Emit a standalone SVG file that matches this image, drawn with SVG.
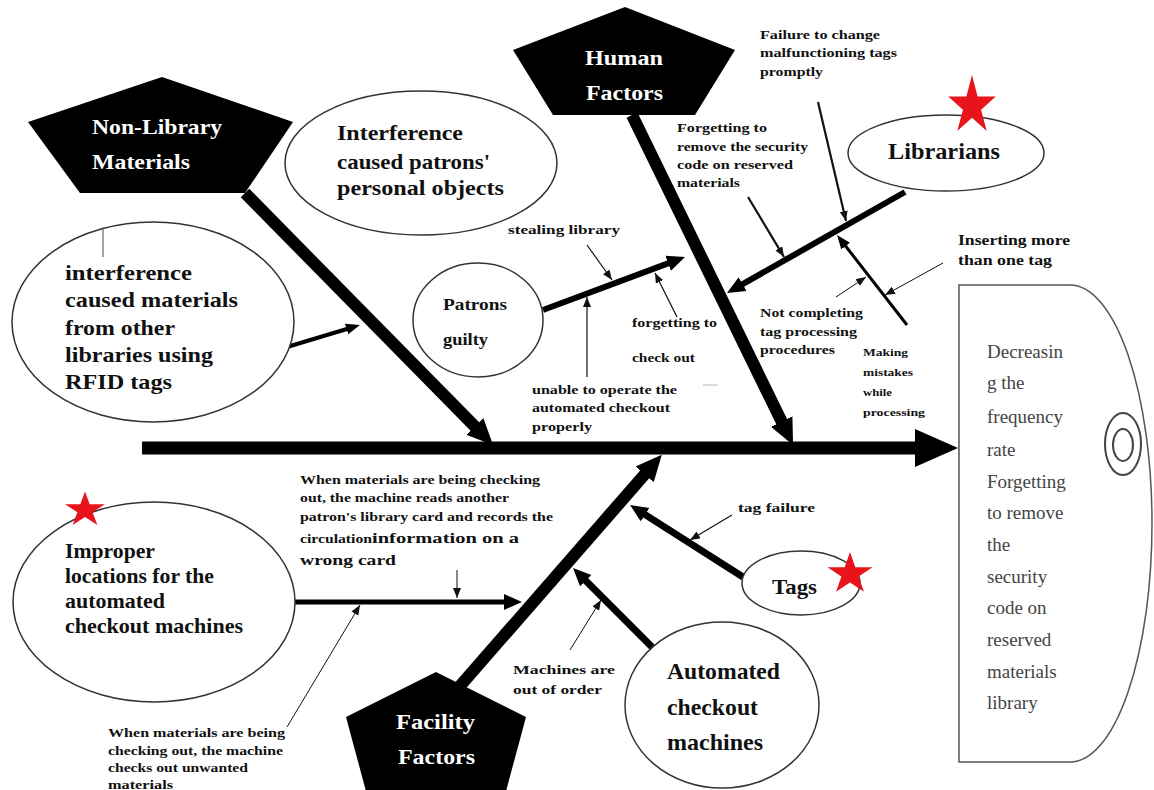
<svg xmlns="http://www.w3.org/2000/svg" xmlns:xlink="http://www.w3.org/1999/xlink" width="1154" height="790" viewBox="0 0 1154 790">
<style>
.b{font-family:"Liberation Serif","Times New Roman",serif;font-weight:bold;fill:#111}
.w{fill:#fff}
.r{font-family:"Liberation Serif","Times New Roman",serif;fill:#444;font-size:19px}
.ov{fill:#fff;stroke:#333;stroke-width:1.5}
.pent{fill:#000}
.bone{stroke:#000;fill:none}
.thin{stroke:#111;fill:none}
.star{fill:#e8141c}
</style>
<defs>
<marker id="aL" markerUnits="userSpaceOnUse" markerWidth="26" markerHeight="26" viewBox="0 0 26 26" refX="4" refY="13" orient="auto"><path d="M0,1 L26,13 L0,25 z" fill="#000"/></marker>
<marker id="aM" markerUnits="userSpaceOnUse" markerWidth="18" markerHeight="18" viewBox="0 0 18 18" refX="2" refY="9" orient="auto"><path d="M0,1 L18,9 L0,17 z" fill="#000"/></marker>
<marker id="aS" markerUnits="userSpaceOnUse" markerWidth="14" markerHeight="12" viewBox="0 0 14 12" refX="2" refY="6" orient="auto"><path d="M0,0.5 L14,6 L0,11.5 z" fill="#000"/></marker>
<marker id="aT" markerUnits="userSpaceOnUse" markerWidth="10" markerHeight="8" viewBox="0 0 10 8" refX="10" refY="4" orient="auto"><path d="M0,0 L10,4 L0,8 z" fill="#111"/></marker>
<path id="star" d="M0,-10 L2.245,-3.09 L9.511,-3.09 L3.633,1.18 L5.878,8.09 L0,3.82 L-5.878,8.09 L-3.633,1.18 L-9.511,-3.09 L-2.245,-3.09 Z"/>
</defs>
<rect width="1154" height="790" fill="#fff"/>

<g id="connectors">
  <line class="bone" x1="142" y1="448" x2="920" y2="448" stroke-width="13"/>
  <polygon points="915,429 958,448 915,467" fill="#000"/>
  <line class="bone" x1="245" y1="193" x2="477.6" y2="429.3" stroke-width="12" marker-end="url(#aL)"/>
  <line class="bone" x1="632" y1="115" x2="783.4" y2="425.2" stroke-width="12" marker-end="url(#aL)"/>
  <line class="bone" x1="460" y1="686" x2="647.3" y2="471.4" stroke-width="12" marker-end="url(#aL)"/>
  <line class="bone" x1="743" y1="577" x2="643.5" y2="513.6" stroke-width="7" marker-end="url(#aM)"/>
  <line class="bone" x1="653" y1="648" x2="584.3" y2="579.3" stroke-width="7" marker-end="url(#aM)"/>
  <line class="bone" x1="295" y1="602" x2="506" y2="602" stroke-width="5" marker-end="url(#aM)"/>
  <line class="bone" x1="543" y1="310" x2="670" y2="262.6" stroke-width="6" marker-end="url(#aM)"/>
  <line class="bone" x1="905" y1="192" x2="740.9" y2="285.1" stroke-width="6" marker-end="url(#aM)"/>
  <line class="bone" x1="907" y1="325" x2="844.4" y2="244.5" stroke-width="3" marker-end="url(#aS)"/>
  <line class="bone" x1="287" y1="347" x2="348.5" y2="328.5" stroke-width="4" marker-end="url(#aS)"/>
  <line class="thin" x1="818" y1="102" x2="846" y2="221" stroke-width="2.2" marker-end="url(#aT)"/>
  <line class="thin" x1="748" y1="197" x2="784" y2="257" stroke-width="2.2" marker-end="url(#aT)"/>
  <line class="thin" x1="836" y1="297" x2="866" y2="277" stroke-width="1" marker-end="url(#aT)"/>
  <line class="thin" x1="943" y1="263" x2="885" y2="295" stroke-width="1" marker-end="url(#aT)"/>
  <line class="thin" x1="587" y1="245" x2="612" y2="280" stroke-width="1.2" marker-end="url(#aT)"/>
  <line class="thin" x1="587" y1="377" x2="587" y2="297" stroke-width="1.2" marker-end="url(#aT)"/>
  <line class="thin" x1="677" y1="317" x2="655" y2="273" stroke-width="1.2" marker-end="url(#aT)"/>
  <line class="thin" x1="732" y1="515" x2="690" y2="540" stroke-width="1.2" marker-end="url(#aT)"/>
  <line class="thin" x1="570" y1="650" x2="601" y2="600" stroke-width="1" marker-end="url(#aT)"/>
  <line class="thin" x1="457" y1="570" x2="457" y2="598" stroke-width="1" marker-end="url(#aT)"/>
  <line class="thin" x1="287" y1="727" x2="360" y2="605" stroke-width="1" marker-end="url(#aT)"/>
  <line x1="703" y1="385" x2="718" y2="385" stroke="#bbb" stroke-width="1"/>
</g>

<g id="non-library-materials">
  <polygon class="pent" points="162,77 293,122 245,193 80,193 28,122"/>
  <text class="b w" font-size="21" x="92" y="134" textLength="130" lengthAdjust="spacingAndGlyphs">Non-Library</text>
  <text class="b w" font-size="21" x="92" y="169" textLength="98" lengthAdjust="spacingAndGlyphs">Materials</text>
</g>

<g id="human-factors">
  <polygon class="pent" points="625,7 735,50 695,115 553,115 513,50"/>
  <text class="b w" font-size="22" x="585" y="65" textLength="78" lengthAdjust="spacingAndGlyphs">Human</text>
  <text class="b w" font-size="22" x="586" y="100" textLength="77" lengthAdjust="spacingAndGlyphs">Factors</text>
</g>

<g id="facility-factors">
  <polygon class="pent" points="436,672 526,717 505,795 367,795 346,717"/>
  <text class="b w" font-size="22" x="396" y="729" textLength="79" lengthAdjust="spacingAndGlyphs">Facility</text>
  <text class="b w" font-size="22" x="398" y="764" textLength="77" lengthAdjust="spacingAndGlyphs">Factors</text>
</g>

<g id="patrons-objects">
  <ellipse class="ov" cx="421" cy="163" rx="136" ry="72"/>
  <text class="b" font-size="22" x="337" y="140" textLength="126" lengthAdjust="spacingAndGlyphs">Interference</text>
  <text class="b" font-size="22" x="337" y="169" textLength="153" lengthAdjust="spacingAndGlyphs">caused patrons'</text>
  <text class="b" font-size="22" x="337" y="195" textLength="167" lengthAdjust="spacingAndGlyphs">personal objects</text>
</g>

<g id="rfid-materials">
  <ellipse class="ov" cx="153" cy="322" rx="141" ry="100"/>
  <line x1="103" y1="227" x2="103" y2="257" stroke="#666" stroke-width="1.2"/>
  <text class="b" font-size="22" x="65" y="280" textLength="127" lengthAdjust="spacingAndGlyphs">interference</text>
  <text class="b" font-size="22" x="65" y="307" textLength="173" lengthAdjust="spacingAndGlyphs">caused materials</text>
  <text class="b" font-size="22" x="65" y="335" textLength="110" lengthAdjust="spacingAndGlyphs">from other</text>
  <text class="b" font-size="22" x="65" y="362" textLength="148" lengthAdjust="spacingAndGlyphs">libraries using</text>
  <text class="b" font-size="22" x="65" y="389" textLength="107" lengthAdjust="spacingAndGlyphs">RFID tags</text>
</g>

<g id="patrons-guilty">
  <ellipse class="ov" cx="478" cy="320" rx="65" ry="57"/>
  <text class="b" font-size="16" x="443" y="310" textLength="64" lengthAdjust="spacingAndGlyphs">Patrons</text>
  <text class="b" font-size="16" x="443" y="345" textLength="45" lengthAdjust="spacingAndGlyphs">guilty</text>
</g>

<g id="librarians">
  <ellipse class="ov" cx="946" cy="153" rx="98" ry="38"/>
  <text class="b" font-size="23" x="888" y="159" textLength="112" lengthAdjust="spacingAndGlyphs">Librarians</text>
  <use xlink:href="#star" class="star" transform="translate(972,106) scale(2.5,3.1)"/>
</g>

<g id="improper-locations">
  <ellipse class="ov" cx="154" cy="602" rx="141" ry="100"/>
  <use xlink:href="#star" class="star" transform="translate(85,510) scale(2.1,1.85)"/>
  <text class="b" font-size="21" x="65" y="558" textLength="90" lengthAdjust="spacingAndGlyphs">Improper</text>
  <text class="b" font-size="21" x="65" y="583" textLength="149" lengthAdjust="spacingAndGlyphs">locations for the</text>
  <text class="b" font-size="21" x="65" y="608" textLength="100" lengthAdjust="spacingAndGlyphs">automated</text>
  <text class="b" font-size="21" x="65" y="633" textLength="178" lengthAdjust="spacingAndGlyphs">checkout machines</text>
</g>

<g id="tags">
  <ellipse class="ov" cx="801" cy="583" rx="59" ry="32"/>
  <text class="b" font-size="22" x="772" y="594" textLength="45" lengthAdjust="spacingAndGlyphs">Tags</text>
  <use xlink:href="#star" class="star" transform="translate(850,574) scale(2.37,2.2)"/>
</g>

<g id="automated-checkout-machines">
  <ellipse class="ov" cx="722" cy="705" rx="97" ry="83"/>
  <text class="b" font-size="24" x="667" y="679" textLength="113" lengthAdjust="spacingAndGlyphs">Automated</text>
  <text class="b" font-size="24" x="667" y="715" textLength="91" lengthAdjust="spacingAndGlyphs">checkout</text>
  <text class="b" font-size="24" x="667" y="750" textLength="96" lengthAdjust="spacingAndGlyphs">machines</text>
</g>

<g id="effect-head">
  <path d="M959,285 L1070,285 A82,238.5 0 0 1 1070,762 L959,762 Z" fill="#fff" stroke="#555" stroke-width="1.5"/>
  <ellipse cx="1123" cy="444" rx="18" ry="31" fill="none" stroke="#444" stroke-width="2"/>
  <ellipse cx="1123" cy="445" rx="10" ry="16" fill="none" stroke="#444" stroke-width="2"/>
  <text class="r" x="987" y="358">Decreasin</text>
  <text class="r" x="987" y="389">g the</text>
  <text class="r" x="987" y="423">frequency</text>
  <text class="r" x="987" y="456">rate</text>
  <text class="r" x="987" y="488">Forgetting</text>
  <text class="r" x="987" y="519">to remove</text>
  <text class="r" x="987" y="551">the</text>
  <text class="r" x="987" y="583">security</text>
  <text class="r" x="987" y="614">code on</text>
  <text class="r" x="987" y="646">reserved</text>
  <text class="r" x="987" y="678">materials</text>
  <text class="r" x="987" y="709">library</text>
</g>

<g id="cause-labels">
  <text class="b" font-size="13" x="760" y="39" textLength="120" lengthAdjust="spacingAndGlyphs">Failure to change</text>
  <text class="b" font-size="13" x="760" y="57" textLength="137" lengthAdjust="spacingAndGlyphs">malfunctioning tags</text>
  <text class="b" font-size="13" x="760" y="76" textLength="63" lengthAdjust="spacingAndGlyphs">promptly</text>

  <text class="b" font-size="13" x="677" y="132" textLength="90" lengthAdjust="spacingAndGlyphs">Forgetting to</text>
  <text class="b" font-size="13" x="677" y="151" textLength="131" lengthAdjust="spacingAndGlyphs">remove the security</text>
  <text class="b" font-size="13" x="677" y="169" textLength="116" lengthAdjust="spacingAndGlyphs">code on reserved</text>
  <text class="b" font-size="13" x="677" y="187" textLength="63" lengthAdjust="spacingAndGlyphs">materials</text>

  <text class="b" font-size="15" x="958" y="245" textLength="112" lengthAdjust="spacingAndGlyphs">Inserting  more</text>
  <text class="b" font-size="15" x="958" y="265" textLength="94" lengthAdjust="spacingAndGlyphs">than one tag</text>

  <text class="b" font-size="13" x="760" y="317" textLength="103" lengthAdjust="spacingAndGlyphs">Not completing</text>
  <text class="b" font-size="13" x="760" y="336" textLength="97" lengthAdjust="spacingAndGlyphs">tag processing</text>
  <text class="b" font-size="13" x="760" y="354" textLength="75" lengthAdjust="spacingAndGlyphs">procedures</text>

  <text class="b" font-size="11" x="863" y="356" textLength="45" lengthAdjust="spacingAndGlyphs">Making</text>
  <text class="b" font-size="11" x="863" y="376" textLength="50" lengthAdjust="spacingAndGlyphs">mistakes</text>
  <text class="b" font-size="11" x="863" y="396" textLength="29" lengthAdjust="spacingAndGlyphs">while</text>
  <text class="b" font-size="11" x="863" y="416" textLength="62" lengthAdjust="spacingAndGlyphs">processing</text>

  <text class="b" font-size="13" x="508" y="234" textLength="112" lengthAdjust="spacingAndGlyphs">stealing library</text>
  <text class="b" font-size="13" x="632" y="327" textLength="85" lengthAdjust="spacingAndGlyphs">forgetting to</text>
  <text class="b" font-size="13" x="632" y="362" textLength="63" lengthAdjust="spacingAndGlyphs">check out</text>
  <text class="b" font-size="12" x="532" y="394" textLength="145" lengthAdjust="spacingAndGlyphs">unable to operate the</text>
  <text class="b" font-size="12" x="532" y="412" textLength="138" lengthAdjust="spacingAndGlyphs">automated checkout</text>
  <text class="b" font-size="12" x="532" y="431" textLength="60" lengthAdjust="spacingAndGlyphs">properly</text>

  <text class="b" font-size="13" x="738" y="512" textLength="77" lengthAdjust="spacingAndGlyphs">tag failure</text>
  <text class="b" font-size="13" x="513" y="674" textLength="102" lengthAdjust="spacingAndGlyphs">Machines are</text>
  <text class="b" font-size="13" x="513" y="694" textLength="89" lengthAdjust="spacingAndGlyphs">out of order</text>

  <text class="b" font-size="12" x="300" y="484" textLength="240" lengthAdjust="spacingAndGlyphs">When materials are being checking</text>
  <text class="b" font-size="12" x="300" y="502" textLength="209" lengthAdjust="spacingAndGlyphs">out, the machine reads another</text>
  <text class="b" font-size="12" x="300" y="521" textLength="253" lengthAdjust="spacingAndGlyphs">patron's library card and records the</text>
  <text class="b" x="300" y="543"><tspan font-size="12" textLength="72" lengthAdjust="spacingAndGlyphs">circulation</tspan><tspan font-size="15" textLength="147" lengthAdjust="spacingAndGlyphs">information  on  a</tspan></text>
  <text class="b" font-size="15" x="300" y="565" textLength="96" lengthAdjust="spacingAndGlyphs">wrong  card</text>

  <text class="b" font-size="12" x="108" y="737" textLength="177" lengthAdjust="spacingAndGlyphs">When materials are being</text>
  <text class="b" font-size="12" x="108" y="755" textLength="175" lengthAdjust="spacingAndGlyphs">checking out, the machine</text>
  <text class="b" font-size="12" x="108" y="772" textLength="140" lengthAdjust="spacingAndGlyphs">checks out unwanted</text>
  <text class="b" font-size="12" x="108" y="789" textLength="65" lengthAdjust="spacingAndGlyphs">materials</text>
</g>
</svg>
